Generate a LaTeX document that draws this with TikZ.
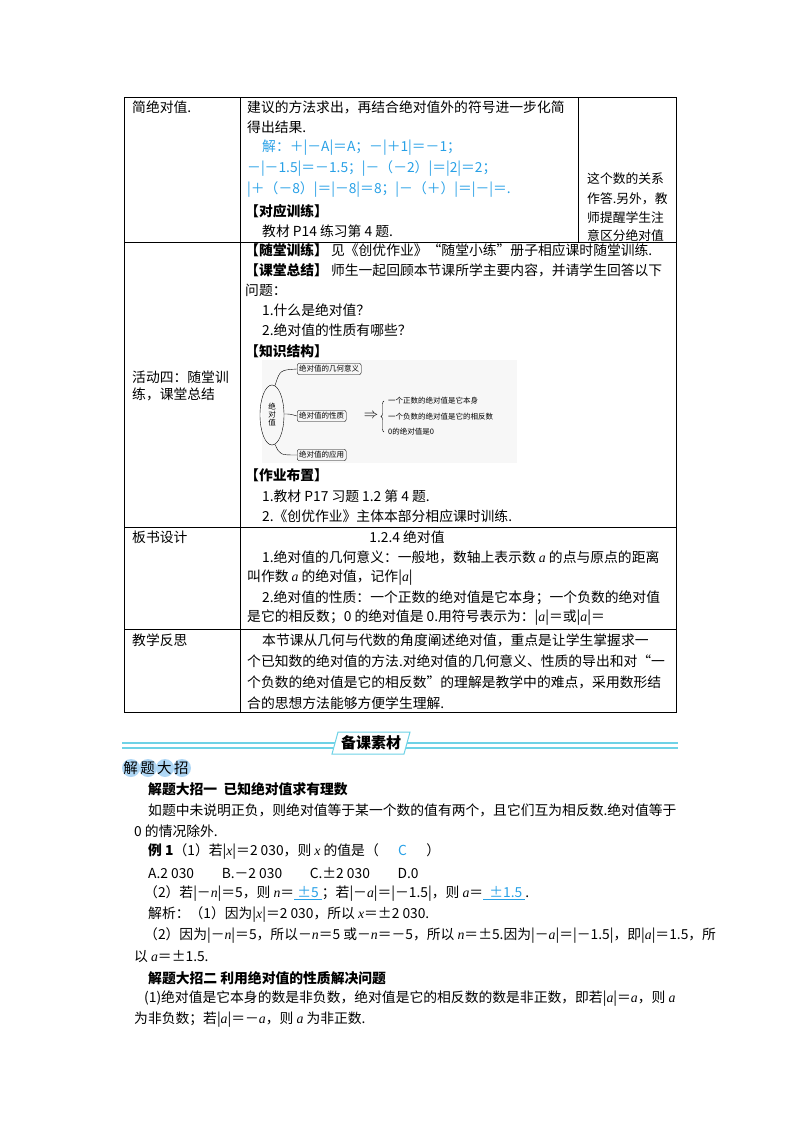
\documentclass[tikz,border=0pt]{standalone}
\usepackage{fontspec}
\setmainfont{Noto Sans CJK SC}
\newfontfamily\lat{Liberation Serif}
\usetikzlibrary{decorations.pathreplacing}
\definecolor{ansblue}{RGB}{40,160,230}
\definecolor{hdrcyan}{RGB}{110,210,230}
\definecolor{badge}{RGB}{175,215,245}
\newcommand{\va}[1]{{\lat\itshape #1}}
\tikzset{
  tx/.style={anchor=west,inner sep=0pt,font=\fontsize{13.8}{15}\selectfont},
  bx/.style={tx,font=\fontsize{13.8}{15}\selectfont\bfseries},
  blue/.style={tx,text=ansblue},
  c3/.style={anchor=west,inner sep=0pt,font=\fontsize{12.8}{15}\selectfont},
  small/.style={anchor=west,inner sep=0pt,font=\fontsize{7.5}{9}\selectfont},
  dbox/.style={draw,rounded corners=2pt,inner sep=2pt,font=\fontsize{7.5}{9}\selectfont},
  tline/.style={line width=0.8pt}
}
\begin{document}
\begin{tikzpicture}[x=1pt,y=-1pt]
\useasboundingbox (0,0) rectangle (800,1132);
% table
\draw[tline] (124,97) rectangle (676,712);
\draw[tline] (240,97) -- (240,712);
\draw[tline] (578,97) -- (578,242);
\draw[tline] (124,242) -- (676,242);
\draw[tline] (124,527) -- (676,527);
\draw[tline] (124,629) -- (676,629);
% row1
\node[tx] (r1c1) at (132,107) {简绝对值.};
\node[tx] (r1a) at (247,107) {建议的方法求出，再结合绝对值外的符号进一步化简};
\node[tx] (r1b) at (247,127) {得出结果.};
\node[blue] (r1c) at (262,148) {解：＋|－A|＝A；－|＋1|＝－1；};
\node[blue] (r1d) at (247,169) {－|－1.5|＝－1.5；|－（－2）|＝|2|＝2；};
\node[blue] (r1e) at (247,190) {|＋（－8）|＝|－8|＝8；|－（＋）|＝|－|＝.};
\node[bx] (r1f) at (245,211) {【对应训练】};
\node[tx] (r1g) at (262,231) {教材 P14 练习第 4 题.};
\node[c3] (r1h) at (587,179) {这个数的关系};
\node[c3] (r1i) at (587,199) {作答.另外，教};
\node[c3] (r1j) at (587,218) {师提醒学生注};
\node[c3] (r1k) at (587,236) {意区分绝对值};
% row2
\node[tx] (r2c1a) at (132,377) {活动四：随堂训};
\node[tx] (r2c1b) at (132,394) {练，课堂总结};
\node[tx] (r2a) at (245,250) {\textbf{【随堂训练】} 见《创优作业》“随堂小练”册子相应课时随堂训练.};
\node[tx] (r2b) at (245,270) {\textbf{【课堂总结】} 师生一起回顾本节课所学主要内容，并请学生回答以下};
\node[tx] (r2c) at (245,290) {问题：};
\node[tx] (r2d) at (262,310) {1.什么是绝对值？};
\node[tx] (r2e) at (262,330) {2.绝对值的性质有哪些？};
\node[bx] (r2f) at (245,351) {【知识结构】};
% diagram
\fill[black!3] (262,360) rectangle (517,463);
\draw (272,415) ellipse (12 and 30);
\node[font=\fontsize{7.5}{8}\selectfont,align=center,inner sep=0pt] (ell) at (272,415) {绝\\对\\值};
\node[dbox,anchor=west] (d1) at (297,369) {绝对值的几何意义};
\node[dbox,anchor=west] (d2) at (297,416) {绝对值的性质};
\node[dbox,anchor=west] (d3) at (297,455) {绝对值的应用};
\draw (275,385.5) .. controls (280,370) .. (d1.west);
\draw (284,414) .. controls (290,414) .. (d2.west);
\draw (275,444.5) .. controls (280,455) .. (d3.west);
\node[font=\fontsize{14}{14}\selectfont\lat,inner sep=0pt] (arr) at (371,416) {$\Rightarrow$};
\coordinate (bt) at (384,401);
\coordinate (bb) at (384,432);
\draw[decorate,decoration={brace,amplitude=3pt,mirror}] (bt) -- (bb);
\node[small] (p1) at (388,401) {一个正数的绝对值是它本身};
\node[small] (p2) at (388,417) {一个负数的绝对值是它的相反数};
\node[small] (p3) at (388,432) {0的绝对值是0};
\node[bx] (r2g) at (245,475) {【作业布置】};
\node[tx] (r2h) at (262,496) {1.教材 P17 习题 1.2 第 4 题.};
\node[tx] (r2i) at (262,516) {2.《创优作业》主体本部分相应课时训练.};
% row3
\node[tx] (r3c1) at (132,537) {板书设计};
\node[tx,anchor=center] (r3a) at (407,537) {1.2.4 绝对值};
\node[tx] (r3b) at (262,557) {1.绝对值的几何意义：一般地，数轴上表示数 \va{a} 的点与原点的距离};
\node[tx] (r3c) at (247,578) {叫作数 \va{a} 的绝对值，记作|\va{a}|};
\node[tx] (r3d) at (262,598) {2.绝对值的性质：一个正数的绝对值是它本身；一个负数的绝对值};
\node[tx] (r3e) at (247,618) {是它的相反数；0 的绝对值是 0.用符号表示为：|\va{a}|＝或|\va{a}|＝};
% row4
\node[tx] (r4c1) at (132,640) {教学反思};
\node[tx] (r4a) at (262,640) {本节课从几何与代数的角度阐述绝对值，重点是让学生掌握求一};
\node[tx] (r4b) at (247,661) {个已知数的绝对值的方法.对绝对值的几何意义、性质的导出和对“一};
\node[tx] (r4c) at (247,682) {个负数的绝对值是它的相反数”的理解是教学中的难点，采用数形结};
\node[tx] (r4d) at (247,703) {合的思想方法能够方便学生理解.};
% header
\draw[hdrcyan,line width=1.6pt] (122,743) -- (678,743);
\draw[hdrcyan,line width=1.6pt] (122,748) -- (678,748);
\fill[white] (338,732) -- (410,732) -- (404,754) -- (332,754) -- cycle;
\draw[hdrcyan,line width=1pt] (338,732) -- (410,732) -- (404,754) -- (332,754) -- cycle;
\node[bx,anchor=center,font=\fontsize{15}{15}\selectfont\bfseries] (hdr) at (371,743) {备课素材};
\foreach \cx in {131,148,165,182} \fill[badge] (\cx,768) circle (9);
\node[tx,anchor=center,font=\fontsize{14.5}{15}\selectfont] (badge) at (156,768) {解\,题\,大\,招};
% body
\node[bx] (b1) at (148,789) {解题大招一\ \ 已知绝对值求有理数};
\node[tx] (b2) at (148,810) {如题中未说明正负，则绝对值等于某一个数的值有两个，且它们互为相反数.绝对值等于};
\node[tx] (b3) at (134,831) {0 的情况除外.};
\node[tx] (b4) at (148,852) {\textbf{例 1}（1）若|\va{x}|＝2 030，则 \va{x} 的值是（\hspace{1.4em}\textcolor{ansblue}{C}\hspace{1.4em}）};
\node[tx] (b5) at (148,873) {A.2 030\hspace{2em}B.－2 030\hspace{2em}C.±2 030\hspace{2em}D.0};
\node[tx] (b6) at (144,894) {（2）若|－\va{n}|＝5，则 \va{n}＝\textcolor{ansblue}{\underline{\ ±5\ }}；若|－\va{a}|＝|－1.5|，则 \va{a}＝\textcolor{ansblue}{\underline{\ \ ±1.5\ }}.};
\node[tx] (b7) at (148,915) {解析：（1）因为|\va{x}|＝2 030，所以 \va{x}＝±2 030.};
\node[tx] (b8) at (144,936) {（2）因为|－\va{n}|＝5，所以－\va{n}＝5 或－\va{n}＝－5，所以 \va{n}＝±5.因为|－\va{a}|＝|－1.5|，即|\va{a}|＝1.5，所};
\node[tx] (b9) at (134,957) {以 \va{a}＝±1.5.};
\node[bx] (b10) at (148,978) {解题大招二\ 利用绝对值的性质解决问题};
\node[tx] (b11) at (144,999) {(1)绝对值是它本身的数是非负数，绝对值是它的相反数的数是非正数，即若|\va{a}|＝\va{a}，则 \va{a}};
\node[tx] (b12) at (134,1020) {为非负数；若|\va{a}|＝－\va{a}，则 \va{a} 为非正数.};
\end{tikzpicture}
\end{document}
